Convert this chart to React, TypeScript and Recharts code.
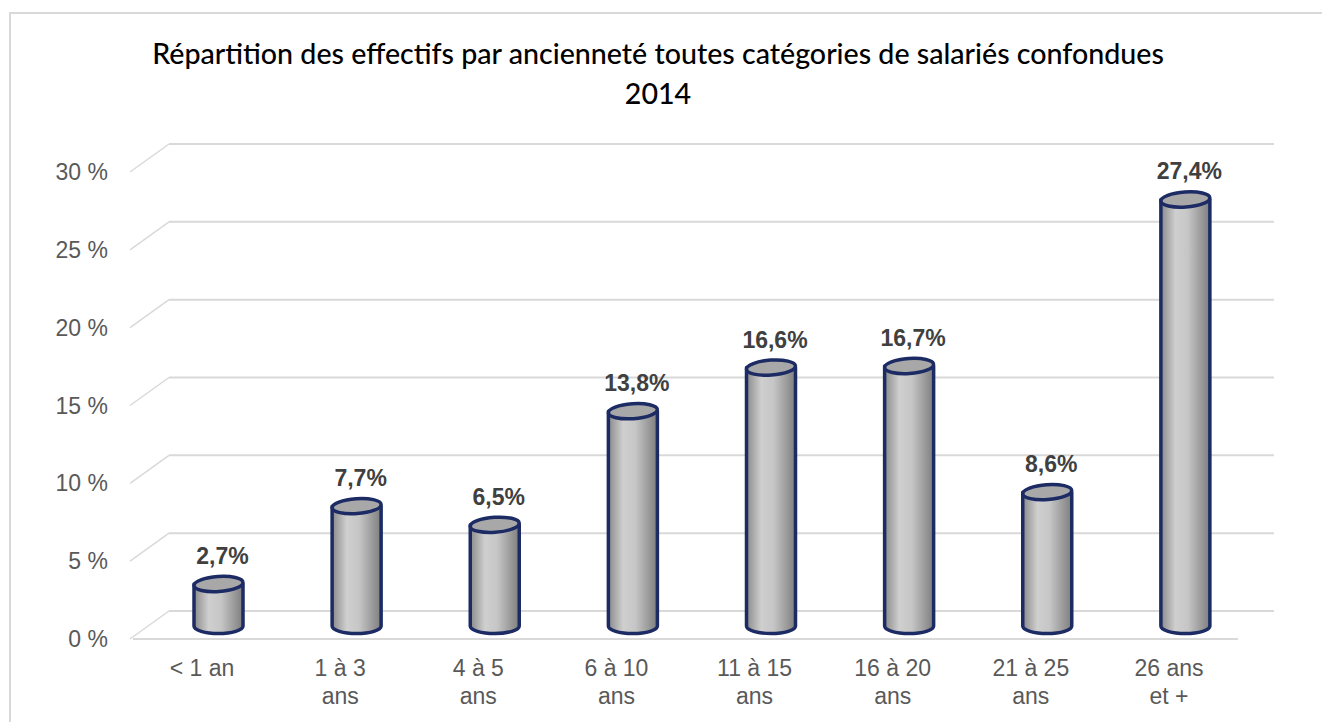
import { BarChart, Bar, XAxis, YAxis, CartesianGrid, LabelList } from 'recharts';

const categories = ['< 1 an', '1 à 3\nans', '4 à 5\nans', '6 à 10\nans', '11 à 15\nans', '16 à 20\nans', '21 à 25\nans', '26 ans\net +'];
const shares = [2.7, 7.7, 6.5, 13.8, 16.6, 16.7, 8.6, 27.4];
const yTicks = [0, 5, 10, 15, 20, 25, 30];

const chartData = categories.map((c, i) => ({ category: c, value: shares[i] }));

// depth offsets for the fake 3D look
const BACK_DX = 36;
const BACK_DY = 28;
const BAR_DX = 16;
const BAR_DY = 13;
const NAVY = '#1c2b64';
const GRID = '#d9d9d9';
const TEXT = '#595959';

const BackGridLine = (p: any) => (
  <g key={p.key}>
    <line x1={p.x1 - 3} y1={p.y1} x2={p.x1 + BACK_DX} y2={p.y1 - BACK_DY} stroke={GRID} strokeWidth={1.5} />
    <line x1={p.x1 + BACK_DX} y1={p.y1 - BACK_DY} x2={p.x2 + BACK_DX} y2={p.y2 - BACK_DY} stroke={GRID} strokeWidth={2} />
  </g>
);

const Cylinder = (props: any) => {
  const { x, y, width, height } = props;
  const left = x + BAR_DX;
  const right = left + width;
  const cx = left + width / 2;
  const rx = width / 2;
  const ry = 7.5;
  const top = y - BAR_DY;
  const base = y + height - BAR_DY;
  const body = `M${left},${top} L${left},${base} A${rx},${ry} 0 0 0 ${right},${base} L${right},${top} Z`;
  return (
    <g>
      <path d={body} fill="url(#cylGrad)" stroke={NAVY} strokeWidth={3.5} strokeLinejoin="round" />
      <ellipse cx={cx} cy={top} rx={rx} ry={ry} fill="#a8a8a8" stroke={NAVY} strokeWidth={3.5} transform={`rotate(-4 ${cx} ${top})`} />
    </g>
  );
};

const ValueLabel = (props: any) => {
  const { x, y, width, value } = props;
  return (
    <text
      x={x + width / 2 + BAR_DX + 4}
      y={y - BAR_DY - 20}
      textAnchor="middle"
      fontFamily="Liberation Sans, Arial, sans-serif"
      fontWeight="bold"
      fontSize={23}
      fill="#404040"
    >
      {value.toFixed(1).replace('.', ',') + '%'}
    </text>
  );
};

const CategoryTick = (props: any) => {
  const { x, y, payload } = props;
  const lines = String(payload.value).split('\n');
  return (
    <text x={x} y={y + 37} textAnchor="middle" fontFamily="Liberation Sans, Arial, sans-serif" fontSize={23} fill={TEXT}>
      {lines.map((l, i) => (
        <tspan key={i} x={x} dy={i === 0 ? 0 : 28}>{l}</tspan>
      ))}
    </text>
  );
};

export default function App() {
  return (
    <div style={{ position: 'relative', width: 1322, height: 722, background: '#fff', overflow: 'hidden' }}>
      <style>{'body{margin:0}'}</style>
      <div style={{ position: 'absolute', left: 9, top: 12, right: -10, bottom: -10, borderTop: `2px solid ${GRID}`, borderLeft: `2px solid ${GRID}` }} />
      <div
        style={{
          position: 'absolute',
          left: 0,
          top: 33,
          width: 1316,
          textAlign: 'center',
          fontFamily: 'Lato, "Open Sans", sans-serif',
          fontWeight: 500,
          fontSize: 28.6,
          lineHeight: '40px',
          color: '#000',
        }}
      >
        Répartition des effectifs par ancienneté toutes catégories de salariés confondues
        <br />
        2014
      </div>
      <BarChart
        width={1322}
        height={722}
        data={chartData}
        margin={{ top: 172, right: 84, bottom: 53, left: 73 }}
        style={{ position: 'absolute', left: 0, top: 0 }}
      >
        <defs>
          <linearGradient id="cylGrad" x1="0" y1="0" x2="1" y2="0">
            <stop offset="0%" stopColor="#8a8a8a" />
            <stop offset="30%" stopColor="#cfcfcf" />
            <stop offset="55%" stopColor="#c6c6c6" />
            <stop offset="100%" stopColor="#7e7e7e" />
          </linearGradient>
        </defs>
        <CartesianGrid vertical={false} horizontal={BackGridLine} />
        <XAxis
          dataKey="category"
          height={30}
          axisLine={{ stroke: GRID, strokeWidth: 2 }}
          tickLine={false}
          tickSize={0}
          tickMargin={0}
          interval={0}
          tick={<CategoryTick />}
        />
        <YAxis
          width={60}
          domain={[0, 30]}
          ticks={yTicks}
          axisLine={false}
          tickLine={false}
          tickSize={0}
          tickMargin={25}
          tickFormatter={(v: number) => `${v} %`}
          tick={{ fontSize: 23, fill: TEXT, fontFamily: 'Liberation Sans, Arial, sans-serif' }}
        />
        <Bar dataKey="value" barSize={49} shape={<Cylinder />} isAnimationActive={false}>
          <LabelList dataKey="value" content={<ValueLabel />} />
        </Bar>
      </BarChart>
    </div>
  );
}
